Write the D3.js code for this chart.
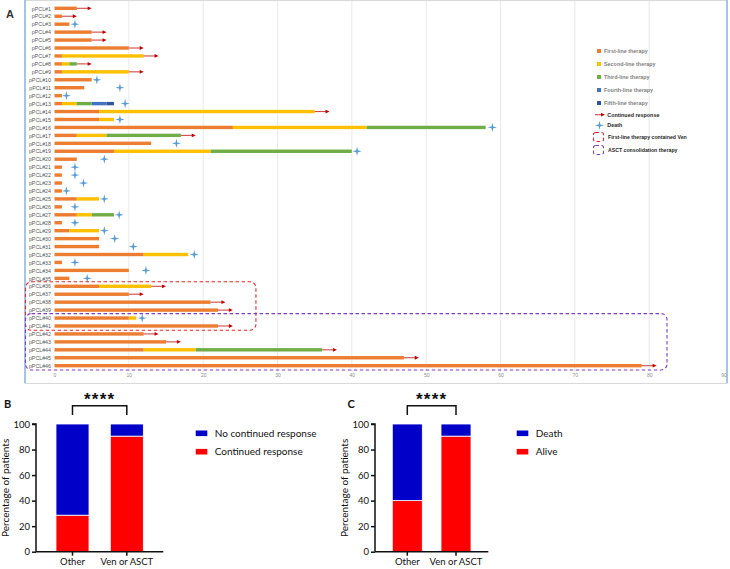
<!DOCTYPE html>
<html><head><meta charset="utf-8">
<script src="https://cdn.jsdelivr.net/npm/d3@7"></script>
<style>body{margin:0;background:#fff}svg{display:block}</style>
</head><body>
<svg id="c" width="730" height="569"></svg>
<script>
// ---------- DATA (panel A) ----------
const patients = ["pPCL#1","pPCL#2","pPCL#3","pPCL#4","pPCL#5","pPCL#6","pPCL#7","pPCL#8","pPCL#9","pPCL#10",
"pPCL#11","pPCL#12","pPCL#13","pPCL#14","pPCL#15","pPCL#16","pPCL#17","pPCL#18","pPCL#19","pPCL#20",
"pPCL#21","pPCL#22","pPCL#23","pPCL#24","pPCL#25","pPCL#26","pPCL#27","pPCL#28","pPCL#29","pPCL#30",
"pPCL#31","pPCL#32","pPCL#33","pPCL#34","pPCL#35","pPCL#36","pPCL#37","pPCL#38","pPCL#39","pPCL#40",
"pPCL#41","pPCL#42","pPCL#43","pPCL#44","pPCL#45","pPCL#46"];
// end of each therapy line (months); null = not given
const firstLine  = [3,1,2,5,5,10,1,1,1,5, 4,1,1,6,6,24,3,13,8,3, 1,1,1,1,3,1,3,1,2,6, 6,12,1,10,2,6,10,21,22,10, 22,12,15,12,47,79];
const secondLine = [null,null,null,null,null,null,12,2,10,null, null,null,3,35,8,42,7,null,21,null, null,null,null,null,6,null,5,null,6,null, null,18,null,null,null,13,null,null,null,11, null,null,null,19,null,null];
const thirdLine  = [null,null,null,null,null,null,null,3,null,null, null,null,5,null,null,58,17,null,40,null, null,null,null,null,null,null,8,null,null,null, null,null,null,null,null,null,null,null,null,null, null,null,null,36,null,null];
const fourthLine = [null,null,null,null,null,null,null,null,null,null, null,null,7,null,null,null,null,null,null,null, null,null,null,null,null,null,null,null,null,null, null,null,null,null,null,null,null,null,null,null, null,null,null,null,null,null];
const fifthLine  = [null,null,null,null,null,null,null,null,null,null, null,null,8,null,null,null,null,null,null,null, null,null,null,null,null,null,null,null,null,null, null,null,null,null,null,null,null,null,null,null, null,null,null,null,null,null];
// outcome: C = continued response (arrow), D = death (star)
const outcome = ["C","C","D","C","C","C","C","C","C","D", "D","D","D","C","D","D","C","D","D","D", "D","D","D","D","D","D","D","D","D","D", "D","D","D","D","D","C","C","C","C","D", "C","C","C","C","C","C"];
const markerAt = [5,3,2.75,7,7,12,14,5,12,5.7, 8.8,1.6,9.5,37,8.8,58.9,19,16.4,40.7,6.7, 2.75,2.75,3.9,1.6,6.7,2.75,8.7,2.75,6.7,8.1, 10.6,18.8,2.75,12.3,4.4,15,12,23,24,11.8, 24,14,17,38,49,81];
const venRows  = ["pPCL#36","pPCL#41"];   // first-line therapy contained Ven (first,last)
const asctRows = ["pPCL#40","pPCL#46"];   // ASCT consolidation therapy (first,last)
const xTicks = [0,10,20,30,40,50,60,70,80,90];
const lineNames = ["First-line therapy","Second-line therapy","Third-line therapy","Fourth-line therapy","Fifth-line therapy"];
const lineColors = ["#ED7D31","#FFC000","#70AD47","#4472C4","#2F5597"];

// ---------- DATA (panels B, C) ----------
const groups = ["Other","Ven or ASCT"];
const continuedResponse = [28.6, 90.5];
const noContinuedResponse = [71.4, 9.5];
const alive = [40, 90.5];
const death = [60, 9.5];
const yTicks = [0,20,40,60,80,100];

const svg = d3.select("#c");
const font = "Liberation Sans, Arial, sans-serif";
const font2 = "Lato, 'Open Sans', sans-serif";

// ================= PANEL A =================
const gA = svg.append("g");
gA.append("rect").attr("x",25).attr("y",0.5).attr("width",702).attr("height",383)
  .attr("fill","#fff").attr("stroke","#d9d9d9").attr("stroke-width",1);
gA.append("line").attr("x1",25).attr("x2",25).attr("y1",0).attr("y2",383).attr("stroke","#8db8e3").attr("stroke-width",1.5);
gA.append("line").attr("x1",727).attr("x2",727).attr("y1",0).attr("y2",383).attr("stroke","#8db8e3").attr("stroke-width",1.5);
gA.append("text").attr("x",6).attr("y",18).text("A").attr("font-family",font).attr("font-weight","bold").attr("font-size",11).attr("fill","#333");

const x = d3.scaleLinear().domain([0,90]).range([54.5,723.5]);
const y = d3.scalePoint().domain(patients).range([8.3,365.7]);
const step = y.step();

// grid
gA.append("g").selectAll("line").data(xTicks.filter(t=>t>0 && t<90)).join("line")
  .attr("x1",d=>x(d)).attr("x2",d=>x(d)).attr("y1",1).attr("y2",372)
  .attr("stroke","#e6e6e6").attr("stroke-width",0.8);

// x axis labels
const xAxis = d3.axisBottom(x).tickValues(xTicks).tickSize(0).tickPadding(0);
const xg = gA.append("g").attr("transform","translate(0,373)").call(xAxis);
xg.select(".domain").remove();
xg.selectAll("text").attr("font-size",5).attr("fill","#8c8c8c").attr("font-family",font);

// y labels
const yAxis = d3.axisLeft(y).tickSize(0).tickPadding(0);
const yg = gA.append("g").attr("transform","translate(51,0)").call(yAxis);
yg.select(".domain").remove();
yg.selectAll("text").attr("font-size",5.3).attr("fill","#595959").attr("font-family",font);

// bars
const lines = [firstLine,secondLine,thirdLine,fourthLine,fifthLine];
const segs = [];
patients.forEach((p,i)=>{
  let prev = 0;
  lines.forEach((arr,k)=>{
    if(arr[i]!=null){ segs.push({p, k, x0:prev, x1:arr[i]}); prev = arr[i]; }
  });
});
const barH = 3.4;
gA.append("g").selectAll("rect").data(segs).join("rect")
  .attr("x",d=>x(d.x0)).attr("width",d=>x(d.x1)-x(d.x0))
  .attr("y",d=>y(d.p)-barH/2).attr("height",barH)
  .attr("fill",d=>lineColors[d.k]);

const lastEnd = patients.map((p,i)=>{
  let e=0; lines.forEach(a=>{ if(a[i]!=null) e=a[i]; }); return e;
});

// arrows
const arrowColor = "#C00000";
const arr = patients.map((p,i)=>({p,i})).filter(d=>outcome[d.i]==="C");
const ag = gA.append("g");
ag.selectAll("line").data(arr).join("line")
  .attr("x1",d=>x(lastEnd[d.i])).attr("x2",d=>x(markerAt[d.i])-3)
  .attr("y1",d=>y(d.p)).attr("y2",d=>y(d.p))
  .attr("stroke","#d04848").attr("stroke-width",1.1);
ag.selectAll("path").data(arr).join("path")
  .attr("d",d=>{const xe=x(markerAt[d.i]), yy=y(d.p); return `M${xe},${yy} L${xe-4},${yy-1.9} L${xe-4},${yy+1.9} Z`;})
  .attr("fill",arrowColor);

// death stars
const starPath = (r,w)=>`M0,${-r} L${w},${-w} L${r},0 L${w},${w} L0,${r} L${-w},${w} L${-r},0 L${-w},${-w} Z`;
const dead = patients.map((p,i)=>({p,i})).filter(d=>outcome[d.i]==="D");
gA.append("g").selectAll("path").data(dead).join("path")
  .attr("transform",d=>`translate(${x(markerAt[d.i])},${y(d.p)})`)
  .attr("d",starPath(4.6,0.9)).attr("fill","#5B9BD5");

// dashed group boxes
function groupBox(rows, xRight, color){
  const y0 = y(rows[0]) - step/2 - 0.5, y1 = y(rows[1]) + step/2 + 0.3;
  gA.append("rect").attr("x",25.5).attr("y",y0).attr("width",xRight-25.5).attr("height",y1-y0)
    .attr("rx",6).attr("ry",6).attr("fill","none").attr("stroke",color)
    .attr("stroke-width",1.1).attr("stroke-dasharray","3.5,2.5");
}
groupBox(venRows, x(27.1), "#e0282e");
groupBox(asctRows, x(82.4), "#7f3fbf");

// legend A
const lg = gA.append("g");
const legY = [51,64,77,90,103];
lineNames.forEach((n,k)=>{
  lg.append("rect").attr("x",597).attr("y",legY[k]-2).attr("width",4).attr("height",4).attr("fill",lineColors[k]);
  lg.append("text").attr("x",604).attr("y",legY[k]+1.9).text(n).attr("font-size",5.4)
    .attr("font-family",font).attr("font-weight","bold").attr("fill","#7f7f7f");
});
lg.append("line").attr("x1",595).attr("x2",602).attr("y1",114.7).attr("y2",114.7).attr("stroke","#d04848").attr("stroke-width",1.1);
lg.append("path").attr("d","M605,114.7 L601,112.8 L601,116.6 Z").attr("fill",arrowColor);
lg.append("text").attr("x",607.3).attr("y",116.6).text("Continued response").attr("font-size",5.4)
  .attr("font-family",font).attr("font-weight","bold").attr("fill","#262626");
lg.append("path").attr("transform","translate(599.5,125.3)").attr("d",starPath(4.6,0.9)).attr("fill","#5B9BD5");
lg.append("text").attr("x",607.3).attr("y",127.2).text("Death").attr("font-size",5.4)
  .attr("font-family",font).attr("font-weight","bold").attr("fill","#262626");
[["First-line therapy contained Ven","#e0282e",137],["ASCT consolidation therapy","#7f3fbf",150]].forEach(([t,c,yy])=>{
  lg.append("rect").attr("x",593.5).attr("y",yy-4.5).attr("width",10).attr("height",9).attr("rx",2)
    .attr("fill","none").attr("stroke",c).attr("stroke-width",1.1).attr("stroke-dasharray","3.5,2.5");
  lg.append("text").attr("x",608).attr("y",yy+1.9).text(t).attr("font-size",5.2)
    .attr("font-family",font).attr("font-weight","bold").attr("fill","#262626");
});

// ================= PANELS B & C =================
function stackedPanel(opt){
  const g = svg.append("g");
  g.append("text").attr("x",opt.labelX).attr("y",407.5).text(opt.label)
    .attr("font-family",font2).attr("font-weight","bold").attr("font-size",11).attr("fill","#111");
  const yS = d3.scaleLinear().domain([0,100]).range([551.7,424]);
  const xS = d3.scaleBand().domain(groups).range([opt.axisX, opt.axisEnd]).paddingInner(opt.pi).paddingOuter(opt.po);
  groups.forEach((grp,i)=>{
    const bx = xS(grp), bw = xS.bandwidth();
    g.append("rect").attr("x",bx).attr("width",bw).attr("y",yS(opt.bottom[i])).attr("height",yS(0)-yS(opt.bottom[i]))
      .attr("fill","#FF0000").attr("stroke","#fff").attr("stroke-width",0.8);
    g.append("rect").attr("x",bx).attr("width",bw).attr("y",yS(opt.bottom[i]+opt.top[i])).attr("height",yS(opt.bottom[i])-yS(opt.bottom[i]+opt.top[i]))
      .attr("fill","#0000C8").attr("stroke","#fff").attr("stroke-width",0.8);
  });
  const ya = g.append("g").attr("transform",`translate(${opt.axisX},0)`)
    .call(d3.axisLeft(yS).tickValues(yTicks).tickSize(4).tickPadding(2));
  ya.select(".domain").attr("stroke","#111").attr("stroke-width",1.5).attr("d",`M-4,${yS(100)}H0V${yS(0)}`);
  ya.selectAll(".tick line").attr("stroke","#111").attr("stroke-width",1.5);
  ya.selectAll("text").attr("font-family",font2).attr("font-size",9.5).attr("fill","#111");
  const xa = g.append("g").attr("transform",`translate(0,${yS(0)})`)
    .call(d3.axisBottom(xS).tickSize(4).tickPadding(3));
  xa.select(".domain").attr("stroke","#111").attr("stroke-width",1.5).attr("d",`M${opt.axisX},0H${opt.axisEnd}`);
  xa.selectAll(".tick line").attr("stroke","#111").attr("stroke-width",1.5);
  xa.selectAll("text").attr("font-family",font2).attr("font-size",9.5).attr("fill","#111");
  g.append("text").attr("transform",`translate(${opt.titleX},${(yS(0)+yS(100))/2}) rotate(-90)`)
    .attr("text-anchor","middle").text("Percentage of patients")
    .attr("font-family",font2).attr("font-size",10).attr("fill","#111");
  const c0 = xS(groups[0])+xS.bandwidth()/2, c1 = xS(groups[1])+xS.bandwidth()/2;
  g.append("path").attr("d",`M${c0},415 V405.7 H${c1} V415`).attr("fill","none").attr("stroke","#111").attr("stroke-width",1.5);
  g.append("text").attr("x",(c0+c1)/2).attr("y",405).attr("text-anchor","middle").text("****")
    .attr("font-family",font).attr("font-weight","bold").attr("font-size",17).attr("letter-spacing",1.2).attr("fill","#111");
  opt.legend.forEach(([t,c],k)=>{
    const ly = 433.3 + k*18.4;
    g.append("rect").attr("x",opt.legX).attr("y",ly-2.8).attr("width",11.6).attr("height",5.6).attr("fill",c);
    g.append("text").attr("x",opt.legX+19).attr("y",ly+3.5).text(t)
      .attr("font-family",font2).attr("font-size",10).attr("fill","#111");
  });
}
stackedPanel({label:"B",labelX:4,axisX:36,axisEnd:163.3,pi:0.392,po:0.368,bottom:continuedResponse,top:noContinuedResponse,
  titleX:9,legX:195.7,legend:[["No continued response","#0000C8"],["Continued response","#FF0000"]]});
stackedPanel({label:"C",labelX:347.5,axisX:375,axisEnd:488.3,pi:0.384,po:0.355,bottom:alive,top:death,
  titleX:348,legX:516.7,legend:[["Death","#0000C8"],["Alive","#FF0000"]]});
</script>
</body></html>
